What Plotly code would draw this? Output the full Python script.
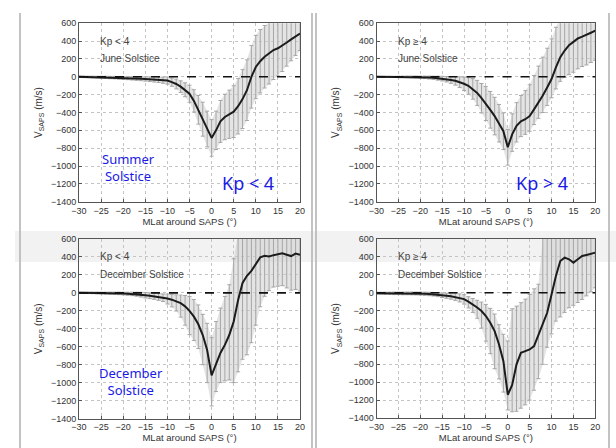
import plotly.graph_objects as go

# ---------------- data ----------------
MLAT = [-30, -29, -28, -27, -26, -25, -24, -23, -22, -21,
        -20, -19, -18, -17, -16, -15, -14, -13, -12, -11,
        -10, -9, -8, -7, -6, -5, -4, -3, -2, -1,
        0,
        1, 2, 3, 4, 5, 6, 7, 8, 9, 10,
        11, 12, 13, 14, 15, 16, 17, 18, 19, 20]

X_TICKS = [-30, -25, -20, -15, -10, -5, 0, 5, 10, 15, 20]
Y_TICKS = [-1400, -1200, -1000, -800, -600, -400, -200, 0, 200, 400, 600]

# June solstice, Kp < 4
TL_MEAN = [0, -1, -2, -3, -4, -5, -6, -8, -9, -11,
           -13, -15, -17, -19, -21, -24, -27, -30, -34, -38,
           -42, -60, -80, -110, -145, -190, -270, -370, -475, -585,
           -685,
           -600, -500, -450, -420, -390, -330, -250, -150, 0, 110,
           175, 225, 265, 300, 320, 350, 385, 420, 455, 485]
TL_UP = [8, 8, 9, 10, 10, 11, 12, 13, 14, 15,
         16, 17, 18, 20, 22, 24, 26, 28, 30, 34,
         40, 46, 55, 65, 78, 95, 125, 160, 190, 200,
         205,
         215, 235, 255, 270, 290, 310, 330, 340, 350, 355,
         355, 350, 345, 330, 310, 290, 265, 240, 215, 190]
TL_DN = [8, 8, 9, 10, 10, 11, 12, 13, 14, 15,
         16, 17, 18, 20, 22, 24, 26, 28, 30, 34,
         40, 46, 55, 65, 78, 95, 125, 160, 190, 200,
         205,
         215, 235, 255, 270, 290, 310, 330, 340, 350, 355,
         355, 350, 345, 330, 310, 290, 265, 240, 215, 190]

# June solstice, Kp >= 4
TR_MEAN = [0, 0, 0, 0, 0, 0, 0, 0, -1, -2,
           -4, -6, -8, -11, -15, -20, -27, -35, -45, -60,
           -78, -100, -135, -180, -240, -300, -370, -440, -520, -610,
           -790,
           -645, -550, -500, -475, -440, -365, -290, -210, -120, -25,
           105, 220, 295, 355, 392, 430, 450, 468, 494, 517]
TR_UP = [5, 5, 5, 6, 6, 7, 8, 9, 10, 11,
         12, 14, 16, 18, 22, 26, 30, 38, 48, 60,
         75, 95, 115, 140, 165, 190, 205, 210, 210, 205,
         200,
         230, 260, 290, 320, 350, 380, 410, 430, 440, 450,
         450, 440, 420, 400, 380, 360, 350, 340, 335, 330]
TR_DN = [5, 5, 5, 6, 6, 7, 8, 9, 10, 11,
         12, 14, 16, 18, 22, 26, 30, 38, 48, 60,
         75, 95, 115, 140, 165, 190, 205, 210, 210, 205,
         200,
         190, 180, 170, 170, 170, 170, 175, 190, 200, 210,
         240, 270, 300, 330, 340, 340, 335, 335, 333, 332]

# December solstice, Kp < 4
BL_MEAN = [0, 0, 0, 0, -1, -2, -3, -4, -5, -6,
           -8, -10, -12, -15, -20, -26, -32, -38, -45, -54,
           -64, -76, -92, -115, -150, -200, -265, -350, -470, -640,
           -920,
           -800, -670, -580, -470, -320, -80, 110, 190, 245, 320,
           395, 412, 405, 420, 430, 440, 425, 410, 438, 425]
BL_UP = [8, 8, 8, 9, 10, 10, 11, 12, 13, 14,
         15, 17, 19, 22, 26, 30, 32, 34, 38, 42,
         50, 58, 70, 90, 120, 160, 190, 215, 230, 300,
         420,
         480, 500, 540, 560, 700, 800, 850, 880, 880, 850,
         800, 750, 700, 600, 550, 520, 500, 480, 450, 420]
BL_DN = [8, 8, 8, 9, 10, 10, 11, 12, 13, 14,
         15, 17, 19, 22, 26, 30, 32, 34, 38, 42,
         60, 80, 110, 155, 210, 265, 265, 270, 330, 360,
         340,
         300, 330, 400, 500, 680, 800, 850, 880, 800, 680,
         550, 450, 380, 355, 356, 360, 370, 380, 400, 405]

# December solstice, Kp >= 4
BR_MEAN = [-5, -5, -6, -6, -7, -7, -8, -8, -8, -9,
           -10, -12, -14, -17, -22, -28, -34, -40, -48, -58,
           -72, -100, -130, -165, -205, -261, -336, -429, -578, -765,
           -1140,
           -1030, -800, -672, -653, -634, -597, -466, -354, -224, -20,
           187, 354, 392, 373, 336, 373, 410, 422, 437, 448]
BR_UP = [10, 10, 12, 12, 14, 14, 15, 15, 16, 16,
         17, 18, 19, 20, 22, 25, 28, 32, 38, 45,
         50, 55, 65, 80, 100, 130, 160, 190, 220, 300,
         600,
         850, 650, 560, 580, 614, 640, 560, 960, 830, 800,
         700, 600, 550, 500, 500, 450, 420, 400, 380, 360]
BR_DN = [10, 10, 12, 12, 14, 14, 15, 15, 16, 16,
         17, 18, 19, 20, 22, 25, 28, 32, 38, 45,
         55, 70, 90, 120, 190, 280, 345, 420, 385, 345,
         170,
         300, 525, 618, 600, 566, 493, 494, 446, 386, 440,
         504, 624, 612, 541, 476, 483, 485, 457, 427, 392]

KP_LABELS = ["Kp &lt; 4", "Kp \u2265 4", "Kp &lt; 4", "Kp \u2265 4"]
SEASON_LABELS = ["June Solstice", "June Solstice", "December Solstice", "December Solstice"]
X_TITLE = "MLat around SAPS (\u00b0)"
Y_TITLE = "V<sub>SAPS</sub> (m/s)"

# ---------------- layout helpers ----------------
W, H = 616, 448
X_RANGE = [-30, 20]
Y_RANGE = [-1400, 600]


def px(x):
    return x / W


def py(y):
    return 1 - y / H


panels = [
    dict(mean=TL_MEAN, up=TL_UP, dn=TL_DN, box=(79, 300, 23.3, 201.7)),
    dict(mean=TR_MEAN, up=TR_UP, dn=TR_DN, box=(376.5, 595.3, 23.3, 201.7)),
    dict(mean=BL_MEAN, up=BL_UP, dn=BL_DN, box=(79, 300, 239, 418.5)),
    dict(mean=BR_MEAN, up=BR_UP, dn=BR_DN, box=(376.5, 595.3, 239, 418)),
]

FONT = "Liberation Sans, Arial, sans-serif"
fig = go.Figure()
annotations = []
shapes = []

# background decorations (page frame lines and faint band)
shapes.append(dict(type="rect", xref="paper", yref="paper", x0=px(15), x1=1, y0=py(262), y1=py(231),
                   fillcolor="#f2f2f2", line=dict(width=0), layer="below"))
for xl in [20, 312, 316, 609]:
    shapes.append(dict(type="line", xref="paper", yref="paper", x0=px(xl), x1=px(xl), y0=py(448), y1=py(13),
                       line=dict(color="#b4b4b4", width=1.6), layer="below"))

for i, p in enumerate(panels):
    k = "" if i == 0 else str(i + 1)
    xa, ya = "x" + k, "y" + k
    upper = [m + e for m, e in zip(p["mean"], p["up"])]
    lower = [m - e for m, e in zip(p["mean"], p["dn"])]
    fig.add_trace(go.Scatter(x=MLAT, y=lower, mode="lines", line=dict(width=0, color="#dcdcdc"),
                             xaxis=xa, yaxis=ya, showlegend=False, hoverinfo="skip"))
    fig.add_trace(go.Scatter(x=MLAT, y=upper, mode="lines", line=dict(width=0, color="#dcdcdc"),
                             fill="tonexty", fillcolor="rgba(205,205,205,0.55)",
                             xaxis=xa, yaxis=ya, showlegend=False, hoverinfo="skip"))
    fig.add_trace(go.Scatter(x=MLAT, y=p["mean"], mode="lines",
                             line=dict(width=0, color="rgba(0,0,0,0)"),
                             error_y=dict(type="data", symmetric=False, array=p["up"], arrayminus=p["dn"],
                                          color="#a6a6a6", thickness=1, width=2),
                             xaxis=xa, yaxis=ya, showlegend=False, hoverinfo="skip"))
    fig.add_trace(go.Scatter(x=MLAT, y=p["mean"], mode="lines", line=dict(color="#1c1c1c", width=2),
                             xaxis=xa, yaxis=ya, showlegend=False))

    x0, x1, y0, y1 = p["box"]
    axis_common = dict(showline=True, mirror=True, linecolor="#555", linewidth=1,
                       ticks="inside", ticklen=3, tickcolor="#555",
                       showgrid=True, gridcolor="#c4c4c4", griddash="dot", gridwidth=1,
                       zeroline=False, automargin=False,
                       tickfont=dict(family=FONT, size=9, color="#333"))
    fig.update_layout(**{
        "xaxis" + k: dict(domain=[px(x0), px(x1)], range=X_RANGE, tickvals=X_TICKS, anchor=ya,
                          title=dict(text=X_TITLE, standoff=3,
                                     font=dict(family=FONT, size=9.5, color="#333")),
                          **axis_common),
        "yaxis" + k: dict(domain=[py(y1), py(y0)], range=Y_RANGE, tickvals=Y_TICKS, anchor=xa,
                          title=dict(text=Y_TITLE, standoff=6,
                                     font=dict(family=FONT, size=10, color="#333")),
                          **axis_common),
    })
    # dashed zero line
    shapes.append(dict(type="line", xref=xa + " domain", yref=ya, x0=0, x1=1, y0=0, y1=0,
                       line=dict(color="#111", width=1.6, dash="dash"), layer="above"))

    # inner labels, placed in paper space at the panel's upper-left
    def to_px(xv, yv):
        fx = (xv - X_RANGE[0]) / (X_RANGE[1] - X_RANGE[0])
        fy = (Y_RANGE[1] - yv) / (Y_RANGE[1] - Y_RANGE[0])
        return x0 + fx * (x1 - x0), y0 + fy * (y1 - y0)

    lx, ly = to_px(-25.6, 400)
    annotations.append(dict(x=px(lx), y=py(ly), xref="paper", yref="paper", text=KP_LABELS[i],
                            showarrow=False, xanchor="left", yanchor="middle",
                            font=dict(family=FONT, size=10, color="#444")))
    lx, ly = to_px(-25.6, 200)
    annotations.append(dict(x=px(lx), y=py(ly), xref="paper", yref="paper", text=SEASON_LABELS[i],
                            showarrow=False, xanchor="left", yanchor="middle",
                            font=dict(family=FONT, size=10, color="#444")))

BLUE = "#1a1ae6"
BFONT = "Noto Sans, Open Sans, sans-serif"
blue_texts = [
    ("Summer<br>Solstice", 128, 167, 13),
    ("Kp &lt; 4", 248, 183, 18),
    ("Kp &gt; 4", 542, 183, 18),
    ("December<br>Solstice", 131, 381, 13),
]
for txt, bx, by, fs in blue_texts:
    annotations.append(dict(x=px(bx), y=py(by), xref="paper", yref="paper", text=txt, showarrow=False,
                            xanchor="center", yanchor="middle", align="center",
                            font=dict(family=BFONT, size=fs, color=BLUE)))

fig.update_layout(width=W, height=H, autosize=False, margin=dict(l=0, r=0, t=0, b=0),
                  paper_bgcolor="white", plot_bgcolor="white", showlegend=False,
                  annotations=annotations, shapes=shapes)

fig.write_html("out.html", config={"displayModeBar": False},
               post_script="document.body.style.margin='0';document.body.style.overflow='hidden';")
